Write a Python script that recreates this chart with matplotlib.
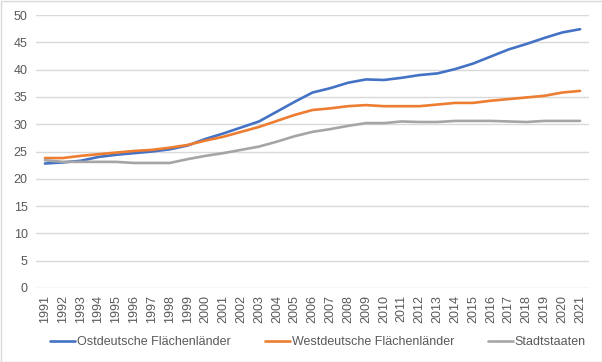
import matplotlib
matplotlib.use("Agg")
import matplotlib.pyplot as plt
from matplotlib.patches import Rectangle

plt.rcParams['font.family'] = ['Liberation Sans', 'DejaVu Sans']

years = [str(y) for y in range(1991, 2022)]
ost = [22.8, 23.0, 23.3, 24.0, 24.4, 24.7, 25.0, 25.4, 26.1, 27.3, 28.3, 29.4, 30.5,
       32.3, 34.1, 35.8, 36.6, 37.6, 38.2, 38.1, 38.5, 39.0, 39.3, 40.1, 41.1, 42.4,
       43.7, 44.7, 45.8, 46.8, 47.4]
west = [23.8, 23.8, 24.2, 24.5, 24.8, 25.1, 25.3, 25.7, 26.2, 27.0, 27.7, 28.6, 29.5,
        30.6, 31.7, 32.6, 32.9, 33.3, 33.5, 33.3, 33.3, 33.3, 33.6, 33.9, 33.9, 34.3,
        34.6, 34.9, 35.2, 35.8, 36.1]
stadt = [23.4, 23.1, 23.1, 23.1, 23.1, 22.9, 22.9, 22.9, 23.6, 24.2, 24.7, 25.3, 25.9,
         26.8, 27.8, 28.6, 29.1, 29.7, 30.2, 30.2, 30.5, 30.4, 30.4, 30.6, 30.6, 30.6,
         30.5, 30.4, 30.6, 30.6, 30.6]
series_names = ['Ostdeutsche Flächenländer', 'Westdeutsche Flächenländer', 'Stadtstaaten']
colors = ['#4472C4', '#ED7D31', '#A5A5A5']
yticks = list(range(0, 51, 5))

fig = plt.figure(figsize=(6.02, 3.62), dpi=100)
ax = fig.add_axes([36/602, 1-288/362, (589-36)/602, (288-15)/362])

x = list(range(len(years)))
for vals, c, n in zip([ost, west, stadt], colors, series_names):
    ax.plot(x, vals, color=c, lw=1.9, label=n, solid_capstyle='round')

ax.set_xlim(-0.5, len(years) - 0.5)
ax.set_ylim(0, 50)
ax.set_yticks(yticks)
ax.set_xticks(x)
ax.set_xticklabels(years, rotation=90)
ax.tick_params(axis='both', length=0, labelsize=9, labelcolor='#595959')
ax.tick_params(axis='y', pad=6)
ax.tick_params(axis='x', pad=5)
ax.grid(axis='y', color='#D9D9D9', lw=1.0)
ax.set_axisbelow(True)
for s in ax.spines.values():
    s.set_visible(False)

leg = fig.legend(loc='center', bbox_to_anchor=(318/602, 1-342/362), ncol=3, frameon=False,
                 fontsize=9, handlelength=2.0, handletextpad=0.15, columnspacing=2.7,
                 labelcolor='#595959')

fig.patches.append(Rectangle((0.5/602, 0.5/362), 1-1/602, 1-1/362, transform=fig.transFigure,
                             fill=False, edgecolor='#D9D9D9', lw=1.0))

fig.savefig('out.png', dpi=100)
